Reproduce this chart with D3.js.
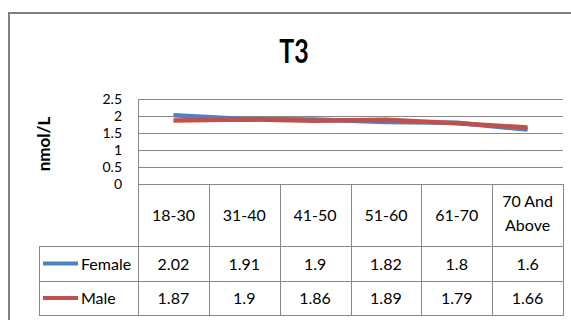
<!DOCTYPE html>
<html>
<head>
<meta charset="utf-8">
<script src="https://cdn.jsdelivr.net/npm/d3@7"></script>
<style>
  html, body { margin: 0; padding: 0; background: #fff; }
  svg { display: block; }
  text { font-family: Lato, "Open Sans", sans-serif; fill: #000; }
</style>
</head>
<body>
<svg id="chart" width="571" height="320"></svg>
<script>
// T3 levels by age group (nmol/L)
const categories = ["18-30", "31-40", "41-50", "51-60", "61-70", "70 And Above"];
const female = [2.02, 1.91, 1.9, 1.82, 1.8, 1.6];
const male = [1.87, 1.9, 1.86, 1.89, 1.79, 1.66];
const yTicks = [0, 0.5, 1, 1.5, 2, 2.5];
const seriesNames = ["Female", "Male"];
const seriesColors = ["#4F81BD", "#C0504D"];

const series = [
  { name: seriesNames[0], values: female, color: seriesColors[0] },
  { name: seriesNames[1], values: male, color: seriesColors[1] }
];

const svg = d3.select("#chart");
const gridColor = "#888888";

// Outer chart frame (runs off the right and bottom edges)
svg.append("path")
  .attr("d", "M9,330 L9,13 L580,13")
  .attr("fill", "none")
  .attr("stroke", "#808080")
  .attr("stroke-width", 2);

// Title
svg.append("text")
  .attr("transform", "translate(294,63) scale(1,1.3)")
  .attr("text-anchor", "middle")
  .attr("font-size", 25)
  .attr("font-weight", "bold")
  .text("T3");

// Scales
const plot = { left: 138, right: 563, top: 99, bottom: 184 };
const x = d3.scaleBand().domain(categories).range([plot.left, plot.right]);
const y = d3.scaleLinear().domain([0, 2.5]).range([plot.bottom, plot.top]);

// Horizontal gridlines
svg.append("g")
  .selectAll("line")
  .data(yTicks)
  .join("line")
  .attr("x1", plot.left)
  .attr("x2", plot.right)
  .attr("y1", d => y(d) + 0.5)
  .attr("y2", d => y(d) + 0.5)
  .attr("stroke", gridColor)
  .attr("stroke-width", 1);

// Y axis labels
const yAxis = svg.append("g")
  .attr("transform", `translate(${plot.left},0)`)
  .call(d3.axisLeft(y).tickValues(yTicks).tickSize(0).tickPadding(16).tickFormat(d3.format("")));
yAxis.select(".domain").remove();
yAxis.selectAll("text")
  .attr("font-family", "Lato, sans-serif")
  .attr("font-size", 14)
  .attr("fill", "#000");

// Y axis title
svg.append("text")
  .attr("transform", "translate(50,144) rotate(-90)")
  .attr("text-anchor", "middle")
  .attr("font-size", 17)
  .attr("font-weight", "bold")
  .text("nmol/L");

// Data table layout
const table = { legendLeft: 39, headerBottom: 246, rowMid: 281, bottom: 315 };
const rowCenters = [263.5, 298];

const tg = svg.append("g").attr("stroke", gridColor).attr("stroke-width", 1);
// vertical column lines
const colEdges = categories.map(c => x(c)).concat([plot.right]);
tg.selectAll("line.col")
  .data(colEdges)
  .join("line")
  .attr("class", "col")
  .attr("x1", d => Math.round(d) + 0.5)
  .attr("x2", d => Math.round(d) + 0.5)
  .attr("y1", (d, i) => i === 0 ? plot.top : plot.bottom)
  .attr("y2", table.bottom);
// legend column left edge
tg.append("line")
  .attr("x1", table.legendLeft + 0.5).attr("x2", table.legendLeft + 0.5)
  .attr("y1", table.headerBottom).attr("y2", table.bottom);
// row lines
tg.selectAll("line.row")
  .data([table.headerBottom, table.rowMid, table.bottom])
  .join("line")
  .attr("class", "row")
  .attr("x1", table.legendLeft)
  .attr("x2", plot.right + 1)
  .attr("y1", d => d + 0.5)
  .attr("y2", d => d + 0.5);

// Category header labels
const header = svg.append("g")
  .selectAll("text")
  .data(categories)
  .join("text")
  .attr("text-anchor", "middle")
  .attr("font-size", 16)
  .attr("x", d => x(d) + x.bandwidth() / 2);
header.each(function(d) {
  const t = d3.select(this);
  const cx = x(d) + x.bandwidth() / 2;
  if (d === "70 And Above") {
    t.append("tspan").attr("x", cx).attr("y", 207).text("70 And");
    t.append("tspan").attr("x", cx).attr("y", 231).text("Above");
  } else {
    t.attr("y", 221).text(d);
  }
});

// Table rows: legend key + values
series.forEach((s, i) => {
  const cy = rowCenters[i];
  svg.append("line")
    .attr("x1", 43).attr("x2", 78)
    .attr("y1", cy).attr("y2", cy)
    .attr("stroke", s.color)
    .attr("stroke-width", 4);
  svg.append("text")
    .attr("x", 81)
    .attr("y", cy + 6)
    .attr("font-size", 16)
    .text(s.name);
  svg.append("g")
    .selectAll("text")
    .data(s.values)
    .join("text")
    .attr("x", (d, j) => x(categories[j]) + x.bandwidth() / 2)
    .attr("y", cy + 6)
    .attr("text-anchor", "middle")
    .attr("font-size", 16)
    .text(d => String(d));
});

// Lines
const line = d3.line()
  .x((d, j) => x(categories[j]) + x.bandwidth() / 2)
  .y(d => y(d));
series.forEach(s => {
  svg.append("path")
    .datum(s.values)
    .attr("d", line)
    .attr("fill", "none")
    .attr("stroke", s.color)
    .attr("stroke-width", 4.5)
    .attr("stroke-linejoin", "round");
});
</script>
</body>
</html>
